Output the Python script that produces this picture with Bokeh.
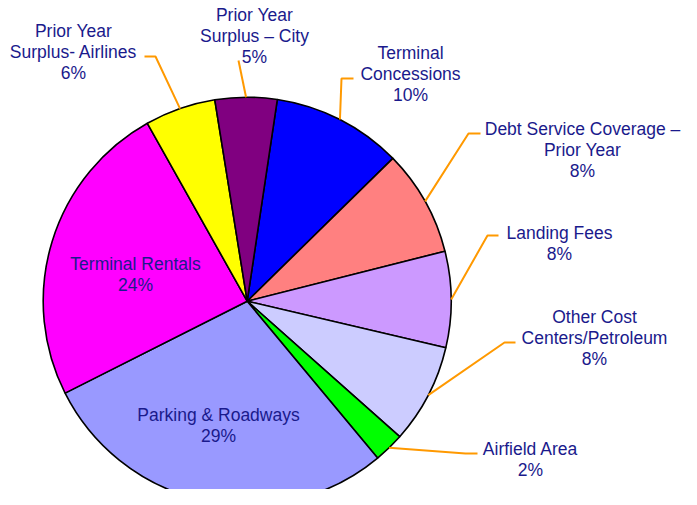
import math
from bokeh.plotting import figure
from bokeh.models import Range1d, ColumnDataSource
from bokeh.core.properties import value
from bokeh.embed import file_html
from bokeh.resources import INLINE

# ---- data (clockwise from the first slice) ----
categories = ["Terminal Concessions", "Debt Service Coverage – Prior Year", "Landing Fees",
              "Other Cost Centers/Petroleum", "Airfield Area", "Parking & Roadways",
              "Terminal Rentals", "Prior Year Surplus- Airlines", "Prior Year Surplus – City"]
shares = [10.3, 8.4, 7.6, 7.9, 2.4, 28.6, 24.3, 5.6, 4.9]
label_lines = [["Terminal", "Concessions"], ["Debt Service Coverage –", "Prior Year"],
               ["Landing Fees"], ["Other Cost", "Centers/Petroleum"], ["Airfield Area"],
               ["Parking & Roadways"], ["Terminal Rentals"], ["Prior Year", "Surplus- Airlines"],
               ["Prior Year", "Surplus – City"]]
colors = ["#0000FF", "#FF8080", "#CC99FF", "#CCCCFF", "#00FF00", "#9999FF",
          "#FF00FF", "#FFFF00", "#800080"]

# ---- layout (reference pixel coordinates) ----
W, H = 681, 489
REF_H = 505
CX, CY, R = 246.7, 300.7, 204
START_DEG = 8.5          # first slice starts this many degrees clockwise from 12 o'clock
label_pos = [(410, 52), (582, 128), (559, 232), (594, 316), (530, 448),
             (218, 414), (135, 263), (73, 30), (254, 14)]
leader_anchor = [(353, 78), (480, 133), (498, 235), (515, 342), (477, 453),
                 None, None, (144, 56), (238, 60)]
leader_elbow = [(341, 78), (468, 133), (487, 235), (504, 342), (465, 453),
                None, None, (155, 56), None]
LINE_H = 21.3

def fy(y):
    return REF_H - y

p = figure(width=W, height=H, output_backend="svg", toolbar_location=None,
           x_range=Range1d(0, W), y_range=Range1d(REF_H - H, REF_H),
           min_border=0, outline_line_color=None, background_fill_color="white")
p.axis.visible = False
p.grid.visible = False

total = sum(shares)
starts, ends, mids = [], [], []
acc = START_DEG
for s in shares:
    a0 = acc
    a1 = acc + s / total * 360.0
    starts.append(math.radians(90 - a0))
    ends.append(math.radians(90 - a1))
    mids.append((a0 + a1) / 2)
    acc = a1

src = ColumnDataSource(dict(start=starts, end=ends, color=colors, cat=categories))
p.wedge(x=CX, y=fy(CY), radius=R, start_angle="start", end_angle="end",
        direction="clock", fill_color="color", line_color="black", line_width=1.6,
        source=src)

# leader lines
lx, ly = [], []
for i, m in enumerate(mids):
    if leader_anchor[i] is None:
        continue
    ex = CX + R * math.sin(math.radians(m))
    ey = CY - R * math.cos(math.radians(m))
    pts = [leader_anchor[i]]
    if leader_elbow[i] is not None:
        pts.append(leader_elbow[i])
    pts.append((ex, ey))
    lx.append([q[0] for q in pts])
    ly.append([fy(q[1]) for q in pts])
p.multi_line(lx, ly, line_color="#FF9900", line_width=2)

# labels
tx, ty, tt = [], [], []
for i, lines in enumerate(label_lines):
    x0, y0 = label_pos[i]
    pct = f"{round(shares[i] / total * 100)}%"
    for k, t in enumerate(lines + [pct]):
        tx.append(x0)
        ty.append(fy(y0 + k * LINE_H))
        tt.append(t)
p.text(x=tx, y=ty, text=tt, text_font=value("Liberation Sans"), text_font_size="17.5px",
       text_color="#1a1a8c", text_align="center", text_baseline="middle")

open("out.html", "w").write(file_html(p, INLINE))
